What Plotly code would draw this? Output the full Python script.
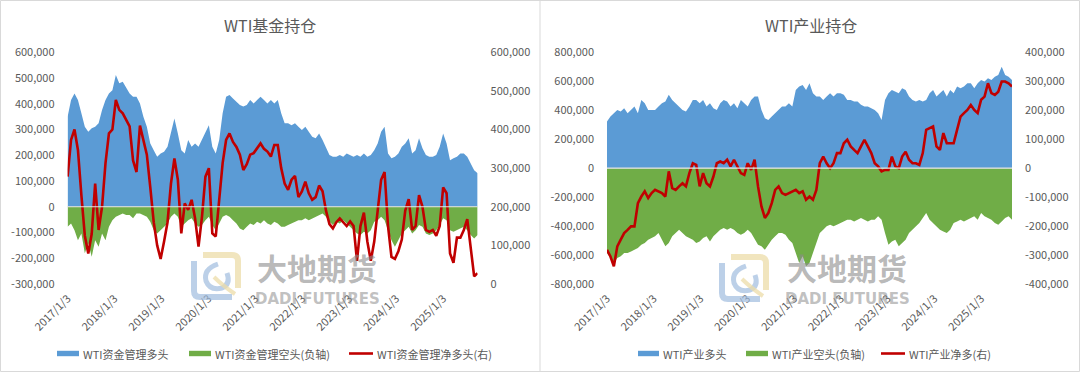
import plotly.graph_objects as go
import pandas as pd

W, H = 1080, 372

# ---------------- data (thousands of contracts) ----------------
fund_long = [350, 415, 440, 415, 363, 311, 291, 305, 311, 324,
             376, 415, 440, 453, 512, 480, 486, 460, 440, 427,
             427, 401, 350, 311, 246, 220, 194, 207, 214, 233,
             285, 343, 285, 220, 207, 259, 233, 246, 233, 259,
             285, 317, 233, 207, 259, 363, 427, 434, 421, 408,
             395, 389, 395, 415, 401, 415, 427, 415, 401, 415,
             401, 415, 363, 324, 324, 317, 324, 311, 298, 311,
             291, 272, 266, 285, 259, 233, 201, 194, 194, 201,
             194, 207, 201, 194, 201, 194, 207, 194, 201, 220,
             246, 291, 311, 207, 188, 194, 207, 233, 246, 266,
             207, 220, 266, 227, 201, 194, 194, 201, 233, 285,
             246, 181, 188, 194, 207, 207, 194, 168, 142, 130]
fund_short = [-78, -65, -91, -130, -104, -181, -142, -194, -130, -155,
              -104, -130, -78, -52, -39, -32, -26, -32, -32, -45,
              -26, -26, -32, -39, -58, -91, -104, -91, -78, -65,
              -39, -26, -39, -78, -65, -52, -45, -65, -78, -71,
              -52, -39, -71, -91, -65, -39, -32, -39, -52, -65,
              -84, -91, -78, -65, -71, -58, -65, -52, -65, -71,
              -58, -65, -78, -78, -71, -65, -58, -52, -52, -45,
              -52, -45, -39, -32, -26, -39, -58, -71, -58, -65,
              -52, -65, -78, -91, -104, -110, -97, -104, -91, -58,
              -52, -39, -52, -91, -130, -155, -130, -104, -91, -78,
              -104, -91, -71, -78, -104, -110, -104, -91, -71, -45,
              -52, -91, -97, -91, -84, -78, -91, -110, -123, -110]
fund_net = [278, 373, 400, 347, 230, 125, 79, 130, 260, 140,
            200, 313, 390, 400, 477, 451, 442, 425, 408, 320,
            290, 410, 370, 335, 250, 160, 100, 65, 110, 160,
            260, 325, 270, 131, 209, 192, 218, 170, 97, 174,
            278, 300, 131, 123, 218, 313, 373, 390, 368, 355,
            335, 295, 310, 335, 339, 350, 364, 350, 343, 330,
            360, 360, 300, 260, 244, 270, 280, 225, 240, 265,
            235, 218, 225, 255, 240, 190, 155, 144, 160, 170,
            160, 150, 162, 150, 60, 150, 185, 110, 60, 110,
            190, 270, 290, 150, 70, 65, 85, 115, 190, 220,
            140, 150, 230, 200, 140, 135, 140, 125, 150, 250,
            235, 79, 55, 120, 120, 140, 168, 95, 20, 28]

ind_long = [322, 356, 379, 402, 391, 414, 379, 402, 425, 379,
            471, 448, 402, 402, 402, 425, 448, 460, 506, 471,
            448, 425, 402, 391, 425, 471, 471, 448, 471, 425,
            448, 414, 402, 448, 471, 460, 425, 448, 414, 471,
            448, 425, 471, 494, 494, 402, 345, 333, 356, 379,
            402, 425, 425, 448, 425, 540, 563, 575, 540, 586,
            517, 494, 494, 471, 494, 517, 494, 517, 517, 506,
            471, 471, 460, 460, 437, 425, 425, 414, 402, 379,
            333, 471, 517, 540, 529, 517, 552, 540, 494, 471,
            460, 471, 460, 471, 517, 540, 494, 517, 540, 494,
            540, 517, 563, 552, 563, 586, 586, 552, 586, 609,
            598, 621, 609, 632, 644, 701, 644, 632, 609]
ind_short = [-586, -621, -655, -621, -609, -586, -586, -575, -563, -552,
             -529, -517, -494, -483, -471, -448, -494, -540, -517, -471,
             -448, -425, -448, -471, -483, -494, -517, -506, -483, -471,
             -506, -471, -448, -425, -414, -425, -414, -425, -448, -460,
             -448, -425, -448, -494, -529, -540, -563, -529, -494, -471,
             -448, -448, -460, -494, -517, -586, -655, -609, -678, -655,
             -586, -517, -448, -425, -402, -391, -402, -391, -379, -368,
             -356, -356, -368, -356, -345, -356, -368, -356, -356, -333,
             -356, -448, -529, -506, -494, -540, -517, -494, -448, -425,
             -402, -379, -345, -310, -356, -379, -402, -425, -437, -448,
             -425, -379, -368, -356, -368, -356, -345, -333, -356, -310,
             -333, -345, -356, -379, -391, -368, -345, -333, -356]
ind_net = [-282, -305, -339, -270, -247, -224, -213, -201, -201, -121,
           -98, -80, -103, -86, -75, -80, -86, -98, -11, -69,
           -75, -63, -52, -63, -17, 17, 11, -63, -17, -52,
           -63, -29, 17, 23, 17, 29, 6, 29, 6, -17,
           -23, 17, -6, 29, -63, -132, -172, -155, -121, -75,
           -63, -86, -92, -86, -80, -75, -86, -80, -109, -98,
           -109, -75, 17, 40, 17, 0, 17, 52, 52, 86,
           98, 75, 63, 52, 75, 98, 75, 52, 17, 6,
           -11, -6, -6, 40, 6, 0, 40, 57, 29, 17,
           17, 11, 52, 132, 138, 144, 75, 63, 121, 86,
           86, 86, 132, 178, 190, 201, 218, 201, 190, 236,
           247, 293, 259, 253, 264, 299, 299, 293, 282]

year_ticks = ["2017-01-03", "2018-01-03", "2019-01-03", "2020-01-03", "2021-01-03",
              "2022-01-03", "2023-01-03", "2024-01-03", "2025-01-03"]
year_labels = ["2017/1/3", "2018/1/3", "2019/1/3", "2020/1/3", "2021/1/3",
               "2022/1/3", "2023/1/3", "2024/1/3", "2025/1/3"]

fund_left_ticks = [-300000, -200000, -100000, 0, 100000, 200000, 300000, 400000, 500000, 600000]
fund_right_ticks = [0, 100000, 200000, 300000, 400000, 500000, 600000]
ind_left_ticks = [-800000, -600000, -400000, -200000, 0, 200000, 400000, 600000, 800000]
ind_right_ticks = [-400000, -300000, -200000, -100000, 0, 100000, 200000, 300000, 400000]

names_fund = ["WTI资金管理多头", "WTI资金管理空头(负轴)", "WTI资金管理净多头(右)"]
names_ind = ["WTI产业多头", "WTI产业空头(负轴)", "WTI产业净多(右)"]
titles = ["WTI基金持仓", "WTI产业持仓"]

BLUE = "#5B9BD5"
GREEN = "#70AD47"
RED = "#C00000"
TXT = "#595959"
FONT = "Noto Sans CJK SC"

step = pd.Timedelta(days=26.8)
dates_f = pd.date_range("2017-01-03", periods=len(fund_long), freq=step)
dates_i = pd.date_range("2017-01-03", periods=len(ind_long), freq=step)


def fx(x):
    return x / W


def fy(y):
    return 1 - y / H


def fmt(v):
    return f"{v:,}"


fig = go.Figure()

panels = [
    dict(dates=dates_f, long=fund_long, short=fund_short, net=fund_net,
         xa="x", ya="y", ya2="y2"),
    dict(dates=dates_i, long=ind_long, short=ind_short, net=ind_net,
         xa="x2", ya="y3", ya2="y4"),
]
for p in panels:
    fig.add_trace(go.Scatter(x=p["dates"], y=[v * 1000 for v in p["long"]], mode="lines",
                             fill="tozeroy", fillcolor=BLUE, line=dict(width=0, color=BLUE),
                             xaxis=p["xa"], yaxis=p["ya"], showlegend=False, hoverinfo="skip"))
    fig.add_trace(go.Scatter(x=p["dates"], y=[v * 1000 for v in p["short"]], mode="lines",
                             fill="tozeroy", fillcolor=GREEN, line=dict(width=0, color=GREEN),
                             xaxis=p["xa"], yaxis=p["ya"], showlegend=False, hoverinfo="skip"))
    fig.add_trace(go.Scatter(x=p["dates"], y=[v * 1000 for v in p["net"]], mode="lines",
                             line=dict(width=2.6, color=RED),
                             xaxis=p["xa"], yaxis=p["ya2"], showlegend=False, hoverinfo="skip"))

ydom = [fy(284), fy(52.3)]
tickfont = dict(size=11, color=TXT, family=FONT)


def xax(dom, anchor, dates):
    return dict(domain=dom, anchor=anchor, type="date", range=[dates[0], dates[-1]],
                tickmode="array", tickvals=year_ticks, ticktext=year_labels, tickangle=-45,
                showgrid=False, zeroline=False, showline=False, ticks="", tickfont=tickfont,
                ticklabelstandoff=5, fixedrange=True, automargin=False)


def yax(rng, ticks, side="left", overlay=None, anchor="x"):
    d = dict(domain=ydom, range=rng, tickmode="array", tickvals=ticks,
             ticktext=[fmt(t) for t in ticks], showgrid=False, zeroline=False, showline=False,
             ticks="", tickfont=tickfont, side=side, anchor=anchor, ticklabelstandoff=12,
             fixedrange=True, automargin=False)
    if overlay:
        d["overlaying"] = overlay
    return d


fig.update_layout(
    template="none",
    width=W, height=H, margin=dict(l=0, r=0, t=0, b=0, pad=0, autoexpand=False),
    paper_bgcolor="white", plot_bgcolor="rgba(0,0,0,0)",
    font=dict(family=FONT, color=TXT, size=11),
    showlegend=False,
    xaxis=xax([fx(67.6), fx(477.6)], "y", dates_f),
    yaxis=yax([-300000, 600000], fund_left_ticks, anchor="x"),
    yaxis2=yax([0, 600000], fund_right_ticks, side="right", overlay="y", anchor="x"),
    xaxis2=xax([fx(607), fx(1012)], "y3", dates_i),
    yaxis3=yax([-800000, 800000], ind_left_ticks, anchor="x2"),
    yaxis4=yax([-400000, 400000], ind_right_ticks, side="right", overlay="y3", anchor="x2"),
)

shapes = []
annotations = []

# frame
shapes.append(dict(type="rect", xref="paper", yref="paper", x0=fx(0.5), x1=fx(1079.5),
                   y0=fy(371.5), y1=fy(0.5), line=dict(color="#d9d9d9", width=1), layer="below"))
shapes.append(dict(type="line", xref="paper", yref="paper", x0=fx(540), x1=fx(540),
                   y0=fy(371.5), y1=fy(0.5), line=dict(color="#d9d9d9", width=1), layer="below"))

# zero lines
for xa, ya in [("x", "y"), ("x2", "y3")]:
    shapes.append(dict(type="line", xref=f"{xa} domain", yref=ya, x0=0, x1=1, y0=0, y1=0,
                       line=dict(color="#e3e3e3", width=1.2), layer="above"))

# titles
for cx, t in [(270, titles[0]), (811, titles[1])]:
    annotations.append(dict(text=t, x=fx(cx), y=fy(25), xref="paper", yref="paper",
                            xanchor="center", yanchor="middle", showarrow=False,
                            font=dict(size=16, color=TXT, family=FONT)))

# watermark
for lx0, ly0, tcx in [(194, 255, 317), (722, 257, 847)]:
    lx1, ly1 = lx0 + 44, ly0 + 42
    beige = "rgba(236,220,168,0.75)"
    lblue = "rgba(160,188,222,0.7)"
    shapes.append(dict(type="path", xref="paper", yref="paper",
                       path=(f"M {fx(lx0+9)},{fy(ly0)} L {fx(lx1-6)},{fy(ly0)} "
                             f"Q {fx(lx1)},{fy(ly0)} {fx(lx1)},{fy(ly0+6)} L {fx(lx1)},{fy(ly1-9)}"),
                       line=dict(color=beige, width=6), layer="above"))
    shapes.append(dict(type="path", xref="paper", yref="paper",
                       path=(f"M {fx(lx0)},{fy(ly0+6)} L {fx(lx0)},{fy(ly1-6)} "
                             f"Q {fx(lx0)},{fy(ly1)} {fx(lx0+6)},{fy(ly1)} L {fx(lx1-6)},{fy(ly1)}"),
                       line=dict(color=lblue, width=6), layer="above"))
    shapes.append(dict(type="path", xref="paper", yref="paper",
                       path=(f"M {fx(lx0+24)},{fy(ly0+9)} Q {fx(lx0+9)},{fy(ly0+14)} {fx(lx0+12)},{fy(ly0+26)} "
                             f"Q {fx(lx0+16)},{fy(ly0+36)} {fx(lx0+28)},{fy(ly0+33)} "
                             f"Q {fx(lx0+37)},{fy(ly0+29)} {fx(lx0+33)},{fy(ly0+18)}"),
                       line=dict(color=lblue, width=5), layer="above"))
    shapes.append(dict(type="path", xref="paper", yref="paper",
                       path=(f"M {fx(lx0+20)},{fy(ly0+22)} Q {fx(lx0+28)},{fy(ly0+30)} {fx(lx1-3)},{fy(ly1-3)}"),
                       line=dict(color=beige, width=4), layer="above"))
    annotations.append(dict(text="<b>大地期货</b>", x=fx(tcx), y=fy(267), xref="paper", yref="paper",
                            xanchor="center", yanchor="middle", showarrow=False,
                            font=dict(size=30, color="rgba(140,140,140,0.62)", family=FONT)))
    annotations.append(dict(text="<b>DADI FUTURES</b>", x=fx(tcx), y=fy(299), xref="paper", yref="paper",
                            xanchor="center", yanchor="middle", showarrow=False,
                            font=dict(size=15, color="rgba(140,140,140,0.55)", family="DejaVu Sans")))

# legends
legends = [
    [(57, 79, names_fund[0]), (189, 211, names_fund[1]), (349, 373, names_fund[2])],
    [(638, 659, names_ind[0]), (746, 768, names_ind[1]), (881, 905, names_ind[2])],
]
LY = 353.5
for items in legends:
    for i, (a, b, name) in enumerate(items):
        if i < 2:
            shapes.append(dict(type="rect", xref="paper", yref="paper", x0=fx(a), x1=fx(b),
                               y0=fy(LY + 2.7), y1=fy(LY - 2.7), fillcolor=[BLUE, GREEN][i],
                               line=dict(width=0)))
        else:
            shapes.append(dict(type="line", xref="paper", yref="paper", x0=fx(a), x1=fx(b),
                               y0=fy(LY), y1=fy(LY), line=dict(color=RED, width=2.6)))
        annotations.append(dict(text=name, x=fx(b + 2), y=fy(LY), xref="paper", yref="paper",
                                xanchor="left", yanchor="middle", showarrow=False,
                                font=dict(size=11, color=TXT, family=FONT)))

fig.update_layout(shapes=shapes, annotations=annotations)
fig.write_html("out.html", config={"displayModeBar": False},
               post_script="document.body.style.margin='0';document.body.style.overflow='hidden';")
